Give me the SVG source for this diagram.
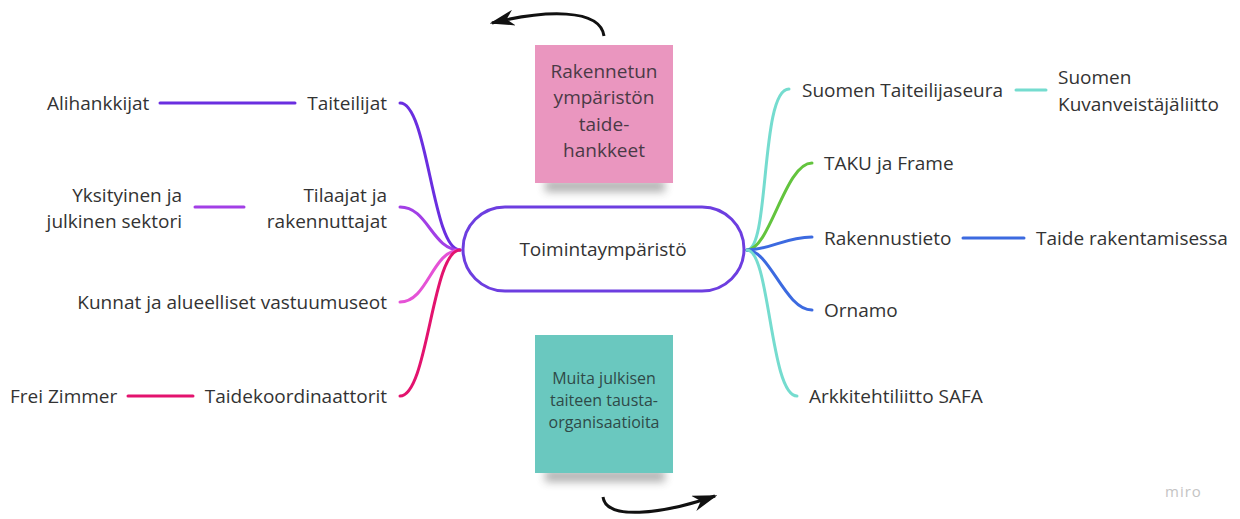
<svg xmlns="http://www.w3.org/2000/svg" width="1240" height="519" viewBox="0 0 1240 519">
<defs>
<style>
text{font-family:"Open Sans","Noto Sans","Liberation Sans",sans-serif;fill:#333;font-size:19px}
.r{text-anchor:end}
.m{text-anchor:middle}
.c{fill:none;stroke-width:3;stroke-linecap:round}
.st{font-size:19px;fill:#4a3a46}
.st2{font-size:16px;fill:#2f4a48}
</style>
<filter id="blur" x="-20%" y="-100%" width="140%" height="300%"><feGaussianBlur stdDeviation="4"/></filter>
<marker id="ah" viewBox="0 0 10 10" refX="9" refY="5" markerWidth="25" markerHeight="16" orient="auto" markerUnits="userSpaceOnUse" preserveAspectRatio="none">
<path d="M0,0 L10,5 L0,10 L3,5 Z" fill="#111"/>
</marker>
</defs>
<rect width="1240" height="519" fill="#fff"/>

<g id="connectors">
<path class="c" stroke="#6a2ee0" d="M400,103 C428,103 432,250 460,250"/>
<path class="c" stroke="#6a2ee0" d="M160,103 H295"/>
<path class="c" stroke="#a23fe6" d="M400,207 C428,207 432,250 460,250"/>
<path class="c" stroke="#a23fe6" d="M195,207 H244"/>
<path class="c" stroke="#e552d6" d="M400,302 C428,302 432,250 460,250"/>
<path class="c" stroke="#e3136e" d="M400,396 C428,396 432,250 460,250"/>
<path class="c" stroke="#e3136e" d="M128,396 H193"/>
<path class="c" stroke="#75dccf" d="M789,89 C760,89 770,250 747,250"/>
<path class="c" stroke="#75dccf" d="M1016,90 H1046"/>
<path class="c" stroke="#63c43e" d="M812,163 C785,163 770,250 747,250"/>
<path class="c" stroke="#3c6ae0" d="M812,237 C785,237 770,250 747,250"/>
<path class="c" stroke="#3c6ae0" d="M963,238 H1024"/>
<path class="c" stroke="#3c6ae0" d="M812,310 C785,310 770,250 747,250"/>
<path class="c" stroke="#75dccf" d="M797,396 C770,396 770,250 747,250"/>
<path fill="none" stroke="#111" stroke-width="3" d="M604,36 C600,8 545,10 492,23" marker-end="url(#ah)"/>
<path fill="none" stroke="#111" stroke-width="3" d="M603,497 C606,520 660,515 715,496" marker-end="url(#ah)"/>
</g>

<g id="center">
<rect x="463" y="207" width="281" height="84" rx="42" fill="#fff" stroke="#6d3ee0" stroke-width="3"/>
<text class="m" x="603" y="256">Toimintaympäristö</text>
</g>

<g id="n-taiteilijat"><text class="r" x="387" y="110">Taiteilijat</text></g>
<g id="n-alihankkijat"><text x="47" y="110">Alihankkijat</text></g>
<g id="n-tilaajat"><text class="r" x="387" y="202">Tilaajat ja</text><text class="r" x="387" y="228">rakennuttajat</text></g>
<g id="n-yksityinen"><text class="r" x="182" y="202">Yksityinen ja</text><text class="r" x="182" y="228">julkinen sektori</text></g>
<g id="n-kunnat"><text class="r" x="387" y="309">Kunnat ja alueelliset vastuumuseot</text></g>
<g id="n-taidekoord"><text class="r" x="387" y="403">Taidekoordinaattorit</text></g>
<g id="n-frei"><text x="10" y="403">Frei Zimmer</text></g>

<g id="n-taiteilijaseura"><text x="802" y="97">Suomen Taiteilijaseura</text></g>
<g id="n-kuvanveistaja"><text x="1058" y="84">Suomen</text><text x="1058" y="111">Kuvanveistäjäliitto</text></g>
<g id="n-taku"><text x="824" y="170">TAKU ja Frame</text></g>
<g id="n-rakennustieto"><text x="824" y="245">Rakennustieto</text></g>
<g id="n-taide-rak"><text x="1036" y="245">Taide rakentamisessa</text></g>
<g id="n-ornamo"><text x="824" y="317">Ornamo</text></g>
<g id="n-safa"><text x="809" y="403">Arkkitehtiliitto SAFA</text></g>

<g id="sticky-pink">
<rect x="545" y="180" width="120" height="12" fill="#555" opacity="0.45" filter="url(#blur)"/>
<rect x="535" y="45" width="138" height="138" fill="#ea96bf"/>
<text class="m st" x="604" y="78">Rakennetun</text>
<text class="m st" x="604" y="104">ympäristön</text>
<text class="m st" x="604" y="131">taide-</text>
<text class="m st" x="604" y="157">hankkeet</text>
</g>

<g id="sticky-teal">
<rect x="545" y="470" width="120" height="12" fill="#555" opacity="0.45" filter="url(#blur)"/>
<rect x="535" y="335" width="138" height="138" fill="#6ac8bf"/>
<text class="m st2" x="604" y="384">Muita julkisen</text>
<text class="m st2" x="604" y="406">taiteen tausta-</text>
<text class="m st2" x="604" y="428">organisaatioita</text>
</g>

<g id="logo"><text x="1165" y="497" style="font-size:15px;fill:#c4c4c4;letter-spacing:1px">miro</text></g>
</svg>
